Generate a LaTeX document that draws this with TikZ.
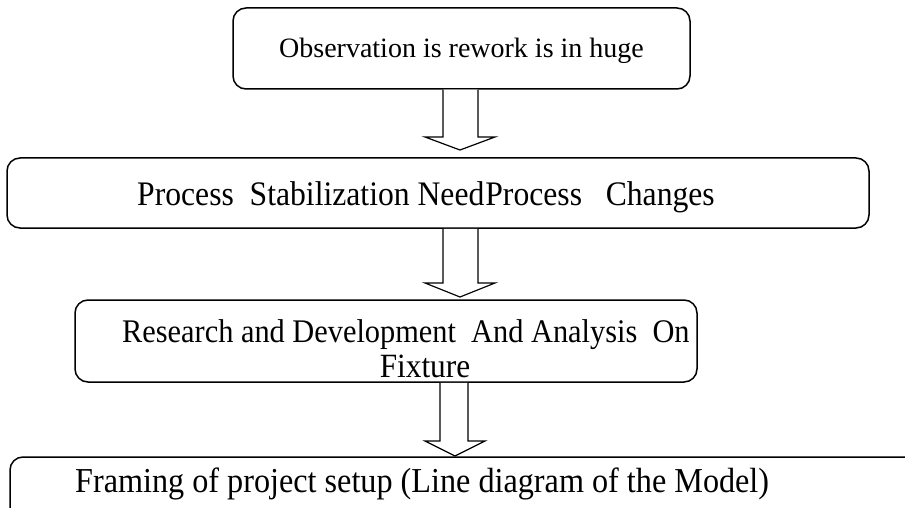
\documentclass[tikz,border=0pt]{standalone}
\usepackage{fontspec}
\setmainfont{Liberation Serif}
\newfontfamily\condfont{Liberation Serif}[FakeStretch=0.92]
\begin{document}
\begin{tikzpicture}[x=1pt,y=-1pt,
  box/.style={draw=black, line width=1.5pt, rounded corners=13pt, inner sep=0pt},
  blockarrow/.style={draw=black, line width=1.2pt, fill=white, line join=miter},
  lbl/.style={inner sep=0pt, font=\condfont\fontsize{34}{36}\selectfont, align=center}]
\useasboundingbox (0,0) rectangle (905,508);
\clip (0,0) rectangle (905,508);
\fill[white] (0,0) rectangle (905,508);
% boxes
\node[box, minimum width=457pt, minimum height=81pt] (b1) at (461.5,48.5) {};
\node[box, minimum width=862pt, minimum height=70pt] (b2) at (438,193) {};
\node[box, minimum width=622pt, minimum height=82pt] (b3) at (386,341) {};
\node[box, minimum width=940pt, minimum height=90pt] (b4) at (480,502) {};
% texts
\node[lbl, anchor=base, font=\rmfamily\fontsize{28}{30}\selectfont] (t1) at (461.5,58) {Observation is rework is in huge};
\node[lbl, anchor=base west, font=\condfont\fontsize{34.4}{36}\selectfont] (t2) at (137,205) {Process~ Stabilization Need\kern1pt Process~~ Changes};
\node[lbl, anchor=base west, font=\condfont\fontsize{33}{35}\selectfont] (t3a) at (122,342) {Research and Development~ And Analysis~ On};
\node[lbl, anchor=base] (t3b) at (425,377) {Fixture};
\node[lbl, anchor=base west, font=\condfont\fontsize{35}{37}\selectfont] (t4) at (75,492) {Framing of project setup (Line diagram of the Model)};
% block arrows
\draw[blockarrow] (443,0 |- b1.south) -- (443,137) -- (425,137) -- (460,150) -- (495,137) -- (478,137) -- (478,0 |- b1.south);
\draw[blockarrow] (443,0 |- b2.south) -- (443,283) -- (425,283) -- (460,297) -- (495,283) -- (478,283) -- (478,0 |- b2.south);
\draw[blockarrow] (440,0 |- b3.south) -- (440,441) -- (425,441) -- (455,456) -- (485,441) -- (468,441) -- (468,0 |- b3.south);
\end{tikzpicture}
\end{document}
